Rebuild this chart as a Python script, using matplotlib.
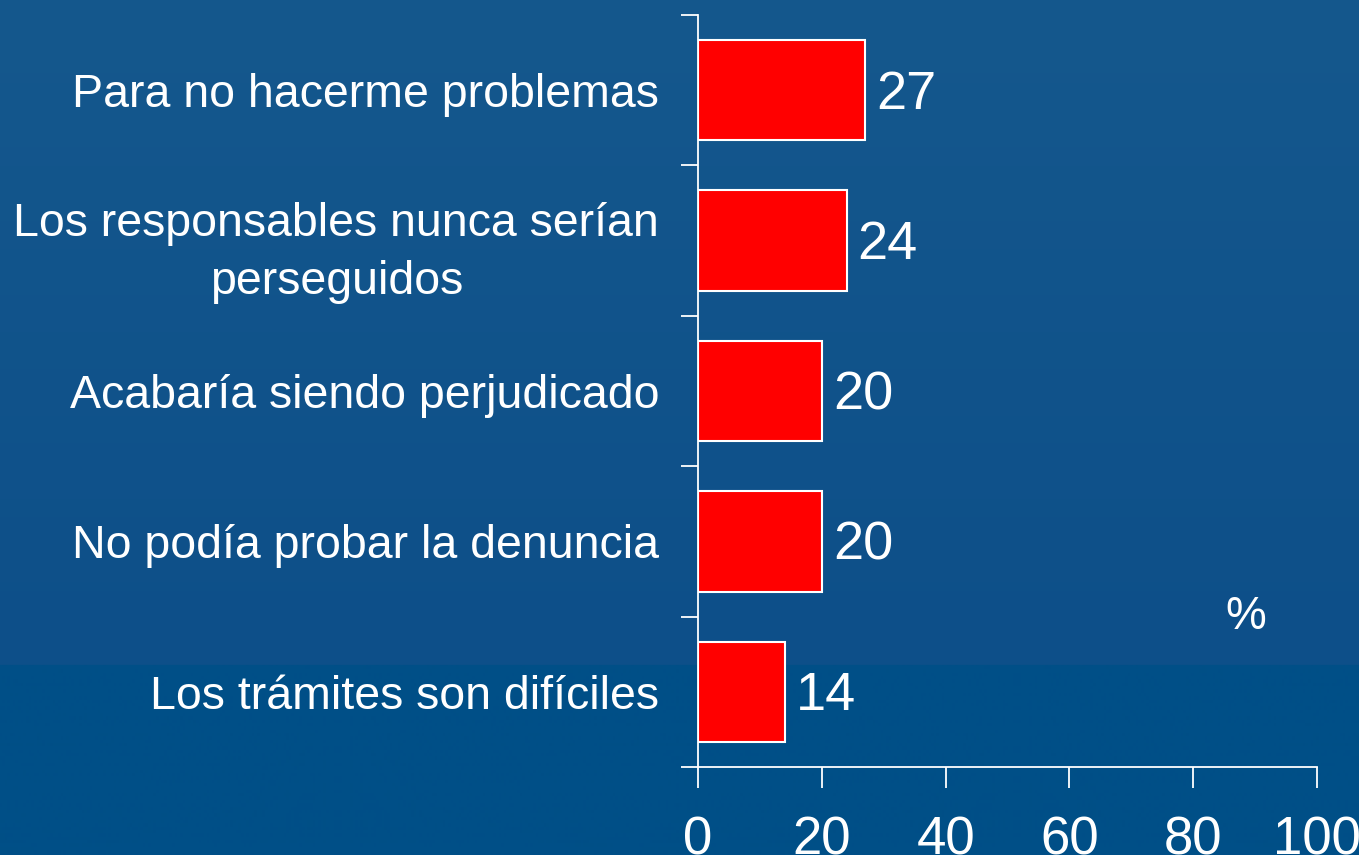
import numpy as np
import matplotlib.pyplot as plt
from matplotlib.colors import to_rgb

plt.rcParams['font.family'] = ['Liberation Sans', 'DejaVu Sans']

categorias = ['Para no hacerme problemas',
              'Los responsables nunca serían\nperseguidos',
              'Acabaría siendo perjudicado',
              'No podía probar la denuncia',
              'Los trámites son difíciles']
valores = [27, 24, 20, 20, 14]
xticks = [0, 20, 40, 60, 80, 100]

fig = plt.figure(figsize=(13.59, 8.55), dpi=100)

# fondo azul con degradado y franja inferior
bg = fig.add_axes([0, 0, 1, 1])
bg.set_axis_off()
h = 855
top = np.array(to_rgb('#15588d'))
mid = np.array(to_rgb('#0d4f89'))
low = np.array(to_rgb('#004f87'))
img = np.zeros((h, 2, 3))
for i in range(h):
    if i < 665:
        f = i / 665
        img[i] = top * (1 - f) + mid * f
    else:
        img[i] = low
bg.imshow(img, aspect='auto', extent=[0, 1, 0, 1])
bg.set_xlim(0, 1)
bg.set_ylim(0, 1)

ax = fig.add_axes([0.5136, 0.1029, 0.4555, 0.8796])
ax.patch.set_alpha(0)

y = np.arange(len(categorias))
ax.barh(y, valores, height=0.667, color='#ff0000', edgecolor='white', linewidth=1.5)
ax.set_ylim(len(categorias) - 0.5, -0.5)
ax.set_xlim(0, 100)

for yi, v in zip(y, valores):
    ax.text(v + 1.8, yi + 0.03, str(v), va='center', ha='left', color='white', fontsize=39)

ax.text(88.5, 3.5, '%', color='white', fontsize=33, ha='center', va='center')

ax.set_yticks(np.arange(-0.5, len(categorias), 1))
ax.set_yticklabels([])
ax.set_yticks(y, minor=True)
ax.set_yticklabels(categorias, minor=True, fontsize=33.5, color='white')
for lab in ax.get_yticklabels(minor=True):
    lab.set_multialignment('center')
    lab.set_linespacing(1.42)
ax.tick_params(axis='y', which='major', length=12, color='white', width=1.3)
ax.tick_params(axis='y', which='minor', length=0, pad=28)

ax.set_xticks(xticks)
ax.set_xticklabels([str(t) for t in xticks], fontsize=38, color='white')
ax.tick_params(axis='x', length=15, color='white', width=1.3, pad=20)

for s in ['top', 'right']:
    ax.spines[s].set_visible(False)
for s in ['left', 'bottom']:
    ax.spines[s].set_color('white')
    ax.spines[s].set_linewidth(1.3)

fig.savefig('out.png', dpi=100)
